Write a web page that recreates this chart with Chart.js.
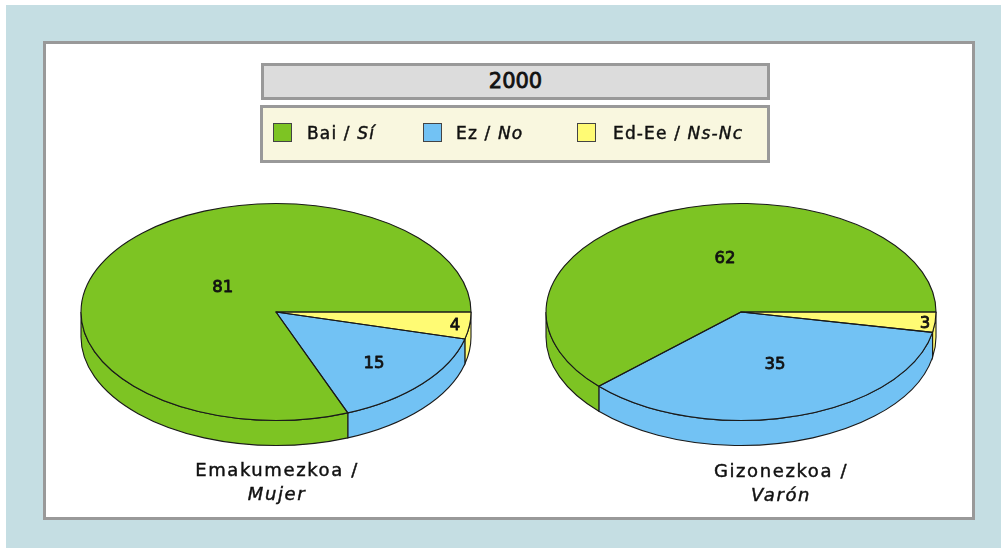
<!DOCTYPE html>
<html><head><meta charset="utf-8">
<script src="https://cdn.jsdelivr.net/npm/chart.js@4"></script>
<style>
html,body{margin:0;padding:0;background:#fff;width:1001px;height:548px;overflow:hidden}
body{position:relative;font-family:"DejaVu Sans",sans-serif;color:#111}
.abs{position:absolute;box-sizing:border-box}
#bg{left:6px;top:5px;width:995px;height:543px;background:#C5DEE3}
#panel{left:43px;top:41px;width:932px;height:479px;background:#fff;border:3px solid #999}
#title{left:261px;top:63px;width:509px;height:37px;background:#DCDCDC;border:3px solid #999;text-align:center;font-size:21px;-webkit-text-stroke:.8px #111;line-height:31px}
#legend{left:260px;top:105px;width:510px;height:58px;background:#F9F7DF;border:3px solid #999}
.sw{position:absolute;width:19px;height:19px;box-sizing:border-box;border:1px solid #444}
.lt{position:absolute;font-size:17px;letter-spacing:1.15px;-webkit-text-stroke:.45px #111;white-space:nowrap;line-height:20px}
canvas{position:absolute}
.cap{position:absolute;text-align:center;font-size:18px;letter-spacing:1.6px;-webkit-text-stroke:.45px #111;line-height:24px;white-space:nowrap}
</style></head><body>
<div class="abs" id="bg"></div>
<div class="abs" id="panel"></div>
<div class="abs" id="title"></div>
<div class="abs" id="legend"></div>
<div style="position:absolute;left:76px;top:112px;width:400px;height:400px"><canvas id="c1"></canvas></div>
<div style="position:absolute;left:541px;top:112px;width:400px;height:400px"><canvas id="c2"></canvas></div>
<div id="texts"></div>
<script>
const yearLabel = "2000";
const categories = ["Bai / ", "Ez / ", "Ed-Ee / "];
const categoriesItalic = ["Sí", "No", "Ns-Nc"];
const seriesColors = ["#7DC423", "#72C2F4", "#FFFB74"];
const mujerValues = [81, 15, 4];
const varonValues = [62, 35, 3];
const mujerCaption = ["Emakumezkoa /", "Mujer"];
const varonCaption = ["Gizonezkoa /", "Varón"];
const mujerReachX = [0.33, 0.67, 0.925];
const mujerReachY = [0.426, 0.697, 0.885];
const varonReachX = [0.223, 0.625, 0.948];
const varonReachY = [0.545, 0.49, 0.98];
const sliceOrder = [2, 1, 0]; // clockwise from 3 o'clock

document.getElementById('title').textContent = yearLabel;
const T = document.getElementById('texts');
const swX = [273, 423, 577], ltX = [307, 456, 613];
categories.forEach((c,i)=>{
  const s=document.createElement('div'); s.className='sw'; s.style.cssText=`left:${swX[i]}px;top:123px;background:${seriesColors[i]}`; T.appendChild(s);
  const t=document.createElement('div'); t.className='lt'; t.style.cssText=`left:${ltX[i]}px;top:123px`;
  t.append(c); const em=document.createElement('i'); em.textContent=categoriesItalic[i]; t.appendChild(em); T.appendChild(t);
});
function caption(lines,cx,top){
  const d=document.createElement('div'); d.className='cap';
  d.style.cssText=`left:${cx-150}px;width:300px;top:${top}px`;
  d.append(lines[0]); d.appendChild(document.createElement('br'));
  const em=document.createElement('i'); em.textContent=lines[1]; d.appendChild(em); T.appendChild(d);
}
caption(mujerCaption,277,458); caption(varonCaption,781,459);

const SQUASH = 108.5/195, DEPTH = 25, LINE = '#1a1a1a';
const pie3d = {
  id:'pie3d',
  beforeDatasetsDraw(chart){
    const ctx=chart.ctx, arcs=chart.getDatasetMeta(0).data;
    const {x:cx,y:cy,outerRadius:R}=arcs[0];
    const ry=R*SQUASH;
    const colors=chart.data.datasets[0].backgroundColor;
    ctx.save(); ctx.lineWidth=1.1; ctx.strokeStyle=LINE;
    arcs.forEach((a,i)=>{
      for(let k=-1;k<=1;k++){
        const s=Math.max(a.startAngle+k*2*Math.PI,0), e=Math.min(a.endAngle+k*2*Math.PI,Math.PI);
        if(e<=s) continue;
        ctx.beginPath();
        ctx.ellipse(cx,cy,R,ry,0,s,e);
        ctx.ellipse(cx,cy+DEPTH,R,ry,0,e,s,true);
        ctx.closePath();
        ctx.fillStyle=colors[i]; ctx.fill(); ctx.stroke();
      }
    });
    ctx.restore();
    ctx.save();
    ctx.translate(0,cy); ctx.scale(1,SQUASH); ctx.translate(0,-cy);
  },
  afterDatasetsDraw(chart,args,opts){
    const ctx=chart.ctx; ctx.restore();
    const arcs=chart.getDatasetMeta(0).data;
    const {x:cx,y:cy,outerRadius:R}=arcs[0];
    const ry=R*SQUASH;
    ctx.save(); ctx.lineWidth=1.1; ctx.strokeStyle=LINE; ctx.lineJoin='round';
    arcs.forEach(a=>{
      ctx.beginPath(); ctx.moveTo(cx,cy);
      ctx.ellipse(cx,cy,R,ry,0,a.startAngle,a.endAngle);
      ctx.closePath(); ctx.stroke();
    });
    ctx.fillStyle='#111'; ctx.strokeStyle='#111'; ctx.lineWidth=.8;
    ctx.font='16.5px "DejaVu Sans"'; ctx.textAlign='center'; ctx.textBaseline='middle';
    arcs.forEach((a,i)=>{
      const m=(a.startAngle+a.endAngle)/2;
      const tx=cx+Math.cos(m)*R*opts.reachX[i], ty=cy+1.7+Math.sin(m)*ry*opts.reachY[i], s=String(chart.data.datasets[0].data[i]);
      ctx.fillText(s,tx,ty); ctx.strokeText(s,tx,ty);
    });
    ctx.restore();
  }
};
function makePie(id,values,reachX,reachY){
  new Chart(document.getElementById(id),{
    type:'pie',
    data:{labels:sliceOrder.map(i=>categories[i]+categoriesItalic[i]),
      datasets:[{data:sliceOrder.map(i=>values[i]),backgroundColor:sliceOrder.map(i=>seriesColors[i]),borderWidth:0,radius:195,clip:false}]},
    options:{responsive:true,maintainAspectRatio:false,animation:false,rotation:90,
      layout:{padding:0},events:[],
      plugins:{legend:{display:false},tooltip:{enabled:false},
        pie3d:{reachX:sliceOrder.map(i=>reachX[i]),reachY:sliceOrder.map(i=>reachY[i])}}},
    plugins:[pie3d]
  });
}
makePie('c1',mujerValues,mujerReachX,mujerReachY);
makePie('c2',varonValues,varonReachX,varonReachY);
</script>
</body></html>
